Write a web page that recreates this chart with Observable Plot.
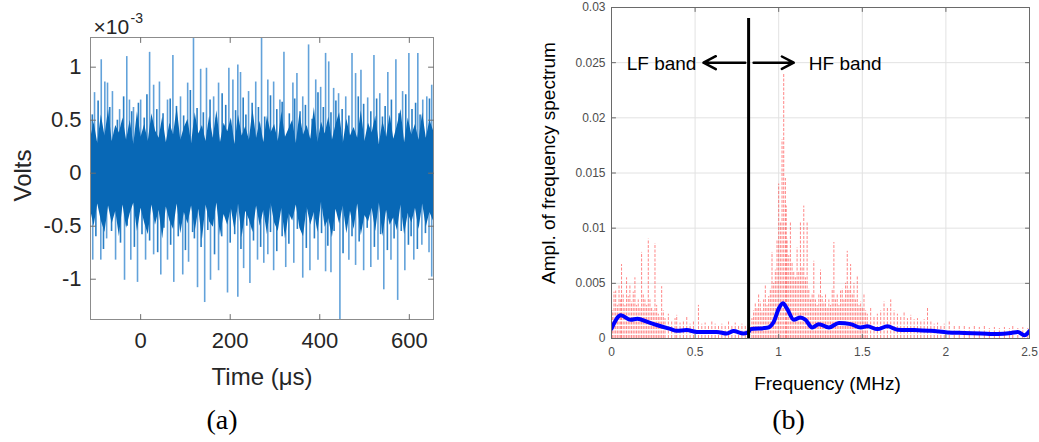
<!DOCTYPE html>
<html><head><meta charset="utf-8">
<script src="https://cdn.jsdelivr.net/npm/d3@7"></script>
<script src="https://cdn.jsdelivr.net/npm/@observablehq/plot@0.6"></script>
<style>
body{margin:0;background:#fff;}
#wrap{position:relative;width:1039px;height:442px;overflow:hidden;background:#fff;}
#a{position:absolute;left:0;top:0;}
#b{position:absolute;left:520px;top:0;}
</style></head><body><div id="wrap"><div id="a"></div><div id="b"></div></div>
<script>
// ---------- Panel (a): time signal, values in units of 1e-3 V ----------
const timeDomain = [-112, 654];
const voltDomain = [-1.38, 1.28];
const timeTicks = [0, 200, 400, 600];
const voltTicks = [-1, -0.5, 0, 0.5, 1];

// main positive peaks (time in µs, value ×1e-3 V)
const posT = [-103,-88,-80,-74,-63,-47,-31,-25,-16,0,20,29,42,60,72,89,105,118,134,147,163,174,197,206,217,223,241,257,270,284,297,311,320,340,349,362,375,391,402,413,420,431,442,458,472,480,492,507,521,534,552,570,585,599,619,630,639,650];
const posV = [0.76,1.07,0.86,0.85,0.77,0.6,1.1,0.69,0.62,0.69,1.14,0.83,0.86,0.69,1.11,0.72,0.85,1.27,0.98,0.99,0.72,0.85,0.99,0.88,1.02,0.95,0.77,0.86,1.28,0.88,0.86,0.69,1.14,0.85,0.94,0.72,1.21,0.88,0.81,1.13,1.05,0.8,0.75,0.72,1.13,0.94,0.97,0.71,1.11,0.75,0.95,1.07,0.77,1.13,1.13,0.69,0.72,0.83];
// secondary positive peaks
const pos2T = [-108,-95,-69,-52,-38,-20,-5,8,14,36,50,66,80,96,111,126,140,155,169,182,190,212,229,235,249,263,277,290,304,316,332,344,356,368,383,396,408,425,436,450,465,486,498,514,527,540,546,560,577,592,606,614,624,645];
const pos2V = [0.55,0.68,0.62,0.5,0.72,0.58,0.66,0.52,0.74,0.6,0.56,0.7,0.63,0.54,0.78,0.61,0.57,0.69,0.52,0.75,0.64,0.59,0.71,0.55,0.66,0.62,0.53,0.73,0.6,0.67,0.56,0.7,0.58,0.64,0.51,0.76,0.62,0.57,0.68,0.6,0.54,0.72,0.65,0.58,0.7,0.53,0.63,0.69,0.56,0.74,0.6,0.66,0.55,0.7];
// main negative peaks
const negT = [-107,-89,-76,-56,-36,-22,-7,11,29,45,60,74,94,107,127,143,156,174,194,217,230,244,261,275,284,297,324,342,362,378,396,413,425,445,465,480,498,514,530,543,559,574,590,610,628,644,650];
const negV = [-0.82,-0.82,-0.62,-0.82,-1.01,-0.82,-1.03,-0.82,-0.77,-0.96,-0.82,-1.03,-0.96,-0.84,-1.08,-1.22,-1.01,-0.92,-1.13,-1.17,-0.9,-1.04,-0.82,-0.85,-0.77,-0.92,-0.89,-0.85,-0.99,-0.92,-0.82,-0.93,-0.94,-1.39,-0.82,-0.87,-0.92,-0.89,-0.82,-1.1,-0.82,-1.2,-0.92,-0.82,-0.68,-0.75,-0.98];
// secondary negative peaks
const neg2T = [-100,-83,-65,-45,-30,-14,3,20,38,52,67,84,100,116,120,135,150,165,181,200,210,224,237,252,268,290,304,316,331,350,370,388,404,418,432,452,472,488,506,522,536,551,566,582,598,604,618,636];
const neg2V = [-0.6,-0.72,-0.55,-0.66,-0.5,-0.7,-0.58,-0.64,-0.75,-0.52,-0.68,-0.6,-0.73,-0.56,-0.62,-0.7,-0.54,-0.77,-0.6,-0.66,-0.58,-0.72,-0.5,-0.64,-0.7,-0.56,-0.74,-0.6,-0.67,-0.53,-0.71,-0.62,-0.57,-0.69,-0.55,-0.76,-0.6,-0.65,-0.52,-0.7,-0.58,-0.73,-0.62,-0.55,-0.68,-0.6,-0.72,-0.57];
// dense core envelope (upper / lower), evenly spaced over the time range
const coreHi = [0.32,0.48,0.28,0.55,0.35,0.60,0.30,0.45,0.38,0.52,0.31,0.50,0.27,0.58,0.34,0.46,0.30,0.56,0.40,0.33,0.53,0.29,0.47,0.36,0.62,0.31,0.43,0.51,0.28,0.57,0.37,0.45,0.30,0.54,0.33,0.59,0.29,0.47,0.39,0.52,0.27,0.55,0.35,0.44,0.31,0.60,0.33,0.49,0.29,0.54,0.38,0.46,0.30,0.58,0.34,0.42,0.50,0.28,0.56,0.36,0.45,0.32,0.62,0.29,0.48,0.37,0.53,0.31,0.46,0.57,0.28,0.51,0.35,0.43,0.33,0.59,0.30,0.47,0.38,0.54,0.27,0.49,0.34,0.55,0.32,0.45,0.60,0.29,0.52,0.36,0.46,0.31,0.57,0.33,0.50,0.40];
const coreLo = [-0.34,-0.50,-0.29,-0.45,-0.56,-0.31,-0.48,-0.36,-0.60,-0.30,-0.52,-0.38,-0.28,-0.55,-0.33,-0.47,-0.58,-0.30,-0.49,-0.35,-0.62,-0.32,-0.45,-0.53,-0.29,-0.57,-0.37,-0.48,-0.31,-0.55,-0.34,-0.63,-0.30,-0.46,-0.51,-0.28,-0.59,-0.39,-0.49,-0.33,-0.54,-0.29,-0.61,-0.36,-0.44,-0.56,-0.31,-0.50,-0.35,-0.58,-0.28,-0.47,-0.55,-0.33,-0.62,-0.38,-0.45,-0.30,-0.52,-0.60,-0.32,-0.49,-0.37,-0.56,-0.27,-0.51,-0.43,-0.61,-0.34,-0.48,-0.31,-0.57,-0.36,-0.53,-0.29,-0.59,-0.40,-0.46,-0.33,-0.55,-0.28,-0.60,-0.35,-0.49,-0.42,-0.54,-0.30,-0.58,-0.38,-0.47,-0.33,-0.53,-0.29,-0.51,-0.37,-0.45];

// ---------- Panel (b): spectrum ----------
const freqDomain = [0, 2.5];
const amplDomain = [0, 0.03];
const freqTicks = [0, 0.5, 1, 1.5, 2, 2.5];
const amplTicks = [0, 0.005, 0.01, 0.015, 0.02, 0.025, 0.03];
const spikeF = [0.005,0.015,0.025,0.035,0.045,0.055,0.06,0.07,0.08,0.09,0.10,0.11,0.12,0.13,0.14,0.15,0.16,0.17,0.18,0.19,0.20,0.21,0.22,0.23,0.24,0.25,0.26,0.27,0.28,0.29,0.30,0.31,0.32,0.34,0.36,0.38,0.39,0.41,0.43,0.45,0.47,0.49,0.52,0.54,0.56,0.58,0.60,0.62,0.64,0.66,0.68,0.70,0.72,0.74,0.76,0.78,0.80,
  0.84,0.85,0.86,0.87,0.88,0.89,0.90,0.91,0.92,0.93,0.94,0.95,0.96,0.97,0.98,0.99,1.00,1.01,1.02,1.03,1.04,1.045,1.05,1.06,1.07,1.08,1.09,1.10,1.11,1.12,1.13,1.14,1.15,1.16,1.17,1.18,1.19,1.20,1.21,1.22,1.23,1.24,1.25,1.26,1.27,1.28,1.29,1.30,1.31,1.32,1.33,1.34,1.35,1.36,1.37,1.38,1.39,1.40,1.41,1.42,1.43,1.44,1.45,1.46,1.47,1.48,1.49,1.50,1.51,1.52,1.53,1.55,1.57,1.59,1.61,1.63,1.65,1.67,1.69,1.71,1.73,1.75,1.77,1.79,1.81,1.83,1.85,1.87,1.89,1.91,1.93,1.95,1.97,1.99,2.02,2.05,2.08,2.11,2.14,2.17,2.20,2.23,2.26,2.29,2.32,2.35,2.38,2.40,2.43,2.46,2.49];
const spikeA = [0.0025,0.0042,0.0043,0.003,0.0048,0.0035,0.0067,0.004,0.003,0.0055,0.0038,0.0049,0.0033,0.0042,0.0055,0.003,0.0035,0.0028,0.0078,0.004,0.0035,0.003,0.009,0.0035,0.0028,0.0025,0.0086,0.003,0.0022,0.002,0.0047,0.0025,0.0018,0.0022,0.0015,0.0018,0.0021,0.0014,0.0016,0.0019,0.0013,0.0015,0.003,0.0013,0.0014,0.0012,0.0016,0.0013,0.0011,0.0013,0.0012,0.0015,0.0012,0.0014,0.0011,0.0013,0.0012,
  0.0018,0.0025,0.0032,0.0027,0.004,0.0033,0.0025,0.0035,0.0048,0.003,0.0038,0.0045,0.0078,0.005,0.0062,0.0089,0.014,0.0105,0.018,0.024,0.0145,0.012,0.009,0.0075,0.0105,0.0068,0.006,0.0055,0.0082,0.006,0.0105,0.0065,0.012,0.0055,0.0105,0.0045,0.0035,0.004,0.007,0.0035,0.003,0.004,0.0062,0.0038,0.0033,0.004,0.0028,0.0035,0.003,0.0045,0.0087,0.0035,0.004,0.003,0.0043,0.0045,0.0035,0.005,0.0079,0.0045,0.0067,0.004,0.005,0.0035,0.0057,0.003,0.0033,0.0028,0.004,0.0025,0.0022,0.0028,0.002,0.0022,0.0025,0.0033,0.0028,0.0035,0.0025,0.0022,0.002,0.0024,0.0018,0.0021,0.0017,0.0018,0.0015,0.0017,0.0028,0.0015,0.0013,0.0014,0.0012,0.0013,0.0015,0.0012,0.0011,0.0012,0.001,0.0011,0.001,0.0011,0.0009,0.001,0.0009,0.001,0.0009,0.0012,0.0009,0.001,0.0009];
const smoothF = [0,0.056,0.115,0.155,0.215,0.275,0.355,0.39,0.45,0.51,0.63,0.69,0.73,0.79,0.82,0.83,0.93,0.97,1.0,1.025,1.05,1.09,1.13,1.16,1.2,1.24,1.3,1.36,1.43,1.49,1.53,1.59,1.65,1.71,1.81,1.91,2.01,2.11,2.21,2.31,2.39,2.43,2.47,2.5];
const smoothA = [0.0009,0.0021,0.0017,0.0018,0.0015,0.0012,0.00085,0.0007,0.00076,0.0006,0.0006,0.00045,0.00067,0.00045,0.0006,0.00085,0.00097,0.0015,0.0027,0.0032,0.0027,0.0017,0.0019,0.0017,0.001,0.0013,0.001,0.0014,0.0013,0.001,0.0011,0.00085,0.0011,0.0008,0.00076,0.0007,0.00055,0.0005,0.00045,0.0004,0.0005,0.0006,0.0003,0.00067];
const bandCut = 0.82;
const bandTop = 0.029;
const arrowY = 0.025;
const lfArrow = [0.80, 0.55];
const hfArrow = [0.85, 1.09];

// ---------- helpers ----------
const zip = (a, b) => a.slice(0, Math.min(a.length, b.length)).map((v, i) => ({x: v, y: b[i]}));
const tickShape = {draw(ctx, l) { ctx.moveTo(0, 0); ctx.lineTo(0, -l); }};
const inTicks = (vals, dim, anchor, len, color) => {
  const rot = {bottom: 0, top: 180, left: 90, right: -90}[anchor];
  return Plot.vector(vals, {[dim]: d => d, frameAnchor: anchor, length: len, rotate: rot, anchor: "start", shape: tickShape, stroke: color, strokeWidth: 1});
};
const FONT = "'Liberation Sans', Arial, Helvetica, sans-serif";

// ---------- Plot (a) ----------
const coreStep = (timeDomain[1] - timeDomain[0]) / (coreHi.length - 1);
const core = coreHi.map((h, i) => ({t: timeDomain[0] + i * coreStep, hi: h, lo: coreLo[i]}));
const lightBlue = "#62a2da";
const midBlue = "#2a7fc6";
const darkBlue = "#0868b6";

const plotA = Plot.plot({
  width: 440, height: 442,
  marginLeft: 90, marginRight: 7, marginTop: 37, marginBottom: 123,
  style: {fontFamily: FONT, background: "transparent", overflow: "visible"},
  x: {domain: timeDomain},
  y: {domain: voltDomain},
  marks: [
    Plot.ruleX(zip(posT, posV), {x: "x", y1: 0, y2: "y", stroke: lightBlue, strokeWidth: 1.6, clip: true}),
    Plot.ruleX(zip(negT, negV), {x: "x", y1: 0, y2: "y", stroke: lightBlue, strokeWidth: 1.6, clip: true}),
    Plot.ruleX(zip(pos2T, pos2V), {x: "x", y1: 0, y2: "y", stroke: midBlue, strokeWidth: 1.6, clip: true}),
    Plot.ruleX(zip(neg2T, neg2V), {x: "x", y1: 0, y2: "y", stroke: midBlue, strokeWidth: 1.6, clip: true}),
    Plot.areaY(core, {x: "t", y1: "lo", y2: "hi", fill: darkBlue, curve: "linear", clip: true}),
    Plot.frame({stroke: "#8c8c8c", strokeWidth: 1}),
    inTicks(timeTicks, "x", "bottom", 5, "#6e6e6e"),
    inTicks(timeTicks, "x", "top", 5, "#6e6e6e"),
    inTicks(voltTicks, "y", "left", 5, "#6e6e6e"),
    inTicks(voltTicks, "y", "right", 5, "#6e6e6e"),
    Plot.axisX(timeTicks, {anchor: "bottom", tickSize: 0, tickPadding: 13, fontSize: 22, fill: "#262626", label: null, tickFormat: d => String(d)}),
    Plot.axisY(voltTicks, {anchor: "left", tickSize: 0, tickPadding: 9, fontSize: 22, fill: "#262626", label: null, tickFormat: d => String(d)}),
    Plot.text(["Time (μs)"], {frameAnchor: "bottom", text: d => d, dy: 58, fontSize: 24, fill: "#262626", textAnchor: "middle", lineAnchor: "middle"}),
    Plot.text(["Volts"], {frameAnchor: "left", text: d => d, dx: -67, dy: -3, rotate: -90, fontSize: 24, fill: "#262626", textAnchor: "middle", lineAnchor: "middle"}),
    Plot.text(["×10"], {frameAnchor: "top-left", text: d => d, dx: 3, dy: -4, fontSize: 21, fill: "#262626", textAnchor: "start", lineAnchor: "bottom"}),
    Plot.text(["-3"], {frameAnchor: "top-left", text: d => d, dx: 40, dy: -15, fontSize: 14, fill: "#262626", textAnchor: "start", lineAnchor: "bottom"}),
    Plot.text(["(a)"], {frameAnchor: "bottom", text: d => d, dx: -40, dy: 101, fontSize: 28, fontFamily: "'Liberation Serif', 'Times New Roman', serif", fill: "#000", textAnchor: "middle", lineAnchor: "middle"})
  ]
});
document.getElementById("a").append(plotA);

// ---------- Plot (b) ----------
const plotB = Plot.plot({
  width: 519, height: 442,
  marginLeft: 91, marginRight: 10, marginTop: 7, marginBottom: 104,
  style: {fontFamily: FONT, background: "transparent", overflow: "visible"},
  x: {domain: freqDomain},
  y: {domain: amplDomain},
  marks: [
    Plot.gridX(freqTicks, {stroke: "#e2e2e2", strokeOpacity: 1}),
    Plot.gridY(amplTicks, {stroke: "#e2e2e2", strokeOpacity: 1}),
    Plot.ruleX(zip(spikeF, spikeA), {x: "x", y1: 0, y2: "y", stroke: "#ff2020", strokeWidth: 0.9, strokeOpacity: 0.6, strokeDasharray: "3,1.5", clip: true}),
    Plot.line(zip(smoothF, smoothA), {x: "x", y: "y", stroke: "#0000ff", strokeWidth: 4, curve: "monotone-x", clip: true}),
    Plot.ruleX([bandCut], {x: d => d, y1: 0, y2: bandTop, stroke: "#000", strokeWidth: 3}),
    Plot.arrow([{x1: lfArrow[0], x2: lfArrow[1], y: arrowY}, {x1: hfArrow[0], x2: hfArrow[1], y: arrowY}],
      {x1: "x1", x2: "x2", y1: "y", y2: "y", stroke: "#000", strokeWidth: 2.5, headLength: 11, headAngle: 55}),
    Plot.text([{x: 0.508, y: arrowY, t: "LF band"}], {x: "x", y: "y", text: "t", textAnchor: "end", fontSize: 19, fill: "#000", dy: 1}),
    Plot.text([{x: 1.18, y: arrowY, t: "HF band"}], {x: "x", y: "y", text: "t", textAnchor: "start", fontSize: 19, fill: "#000", dy: 1}),
    Plot.frame({stroke: "#6a6a6a", strokeWidth: 1}),
    inTicks(freqTicks, "x", "bottom", 4, "#6a6a6a"),
    inTicks(freqTicks, "x", "top", 4, "#6a6a6a"),
    inTicks(amplTicks, "y", "left", 4, "#6a6a6a"),
    inTicks(amplTicks, "y", "right", 4, "#6a6a6a"),
    Plot.axisX(freqTicks, {anchor: "bottom", tickSize: 0, tickPadding: 9, fontSize: 12, fill: "#4d4d4d", label: null, tickFormat: d3.format("~g")}),
    Plot.axisY(amplTicks, {anchor: "left", tickSize: 0, tickPadding: 6, fontSize: 12, fill: "#4d4d4d", label: null, tickFormat: d3.format("~g")}),
    Plot.text(["Frequency (MHz)"], {frameAnchor: "bottom", text: d => d, dx: 7, dy: 45, fontSize: 19, fill: "#000", textAnchor: "middle", lineAnchor: "middle"}),
    Plot.text(["Ampl. of frequency spectrum"], {frameAnchor: "left", text: d => d, dx: -63, dy: -10, rotate: -90, fontSize: 19, fill: "#000", textAnchor: "middle", lineAnchor: "middle"}),
    Plot.text(["(b)"], {frameAnchor: "bottom", text: d => d, dx: -32, dy: 82, fontSize: 28, fontFamily: "'Liberation Serif', 'Times New Roman', serif", fill: "#000", textAnchor: "middle", lineAnchor: "middle"})
  ]
});
document.getElementById("b").append(plotB);
</script>
</body></html>
